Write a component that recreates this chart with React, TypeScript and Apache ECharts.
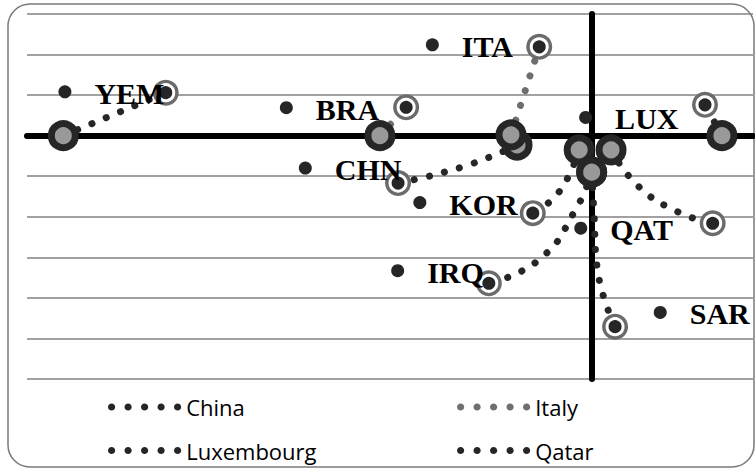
import React, { useEffect, useRef } from 'react';
import * as echarts from 'echarts';

// ---- data ----
const pathNames = ['YEM', 'BRA', 'Italy', 'China', 'KOR', 'IRQ', 'SAR', 'Qatar', 'Luxembourg'];
const pathTone = ['dark', 'grey', 'grey', 'dark', 'dark', 'dark', 'dark', 'dark', 'dark'];
const startX = [-13.1, -5.25, -2.0, -1.85, -0.31, 0.0, 0.0, 0.48, 3.23];
const startY = [0, 0, 0.02, -0.23, -0.35, -0.9, -0.9, -0.35, 0];
const endX = [-10.56, -4.6, -1.3, -4.8, -1.46, -2.55, 0.58, 3.0, 2.81];
const endY = [1.06, 0.7, 2.19, -1.17, -1.91, -3.64, -4.71, -2.16, 0.76];
const viaX: number[][] = [[], [], [], [-3.14], [-0.81], [-0.39, -1.28], [0.06, 0.13], [1.15, 2.14], []];
const viaY: number[][] = [[], [], [], [-0.75], [-1.39], [-1.81, -3.04], [-1.96, -3.21], [-1.24, -1.88], []];
const startDrawOrder = [0, 1, 3, 2, 4, 7, 5, 6, 8];

const labelNames = ['ITA', 'YEM', 'BRA', 'LUX', 'CHN', 'KOR', 'QAT', 'IRQ', 'SAR'];
const labelX = [-3.95, -13.06, -7.57, -0.15, -7.1, -4.26, -0.27, -4.81, 1.7];
const labelY = [2.24, 1.08, 0.69, 0.45, -0.8, -1.65, -2.28, -3.33, -4.36];

const legendLeft = ['China', 'Luxembourg'];
const legendRight = ['Italy', 'Qatar'];

const xMin = -14;
const xMax = 4;
const yMin = -6;
const yMax = 3;

// ---- styles ----
const DARK = '#262626';
const GREY_LINE = '#6e6e6e';
const RING_GREY = '#6b6b6b';
const FILL_GREY = '#999999';

function circlePath(cx: number, cy: number, r: number) {
  const k = 0.5523 * r;
  return (
    `M${cx - r} ${cy}` +
    `C${cx - r} ${cy - k} ${cx - k} ${cy - r} ${cx} ${cy - r}` +
    `C${cx + k} ${cy - r} ${cx + r} ${cy - k} ${cx + r} ${cy}` +
    `C${cx + r} ${cy + k} ${cx + k} ${cy + r} ${cx} ${cy + r}` +
    `C${cx - k} ${cy + r} ${cx - r} ${cy + k} ${cx - r} ${cy}Z`
  );
}
const legendDots = [3.6, 20.1, 36.6, 53.1, 69.6].map((cx) => circlePath(cx, 3.6, 3.6)).join('');

export default function App() {
  const ref = useRef<HTMLDivElement>(null);

  useEffect(() => {
    if (!ref.current) return;
    const chart = echarts.init(ref.current, undefined, { renderer: 'svg' });

    const toneOf = (name: string) => pathTone[pathNames.indexOf(name)];

    const lineSeries = pathNames.map((name, i) => {
      const pts: number[][] = [[startX[i], startY[i]]];
      viaX[i].forEach((vx, k) => pts.push([vx, viaY[i][k]]));
      pts.push([endX[i], endY[i]]);
      const col = pathTone[i] === 'grey' ? GREY_LINE : DARK;
      return {
        type: 'line',
        name,
        data: pts,
        smooth: viaX[i].length ? 0.5 : false,
        symbol: 'none',
        showSymbol: false,
        color: col,
        itemStyle: { color: col },
        lineStyle: { color: col, width: 7, type: [0.1, 15.4], cap: 'round' },
        z: 2,
        silent: true,
      };
    });

    const startData = startDrawOrder.map((i) => [startX[i], startY[i]]);
    const endData = pathNames.map((_, i) => [endX[i], endY[i]]);
    const labelData = labelNames.map((n, i) => ({ name: n, value: [labelX[i], labelY[i]] }));

    const legendItems = (names: string[]) =>
      names.map((n) => ({
        name: n,
        icon: 'path://' + legendDots,
        itemStyle: {
          color: toneOf(n) === 'grey' ? '#6f6f6f' : '#262626',
          borderWidth: 0,
          borderColor: 'transparent',
        },
      }));

    const legendCommon = {
      orient: 'vertical',
      top: 395,
      itemWidth: 73.2,
      itemHeight: 7.2,
      itemGap: 19.5,
      padding: 0,
      icon: 'path://' + legendDots,
      selectedMode: false,
      itemStyle: { borderWidth: 0, borderColor: 'transparent', borderType: 'solid' },
      textStyle: { fontFamily: 'Open Sans', fontSize: 22, color: '#000', lineHeight: 24 },
    };

    chart.setOption({
      animation: false,
      grid: { left: 27, right: 2, top: 14, bottom: 89 },
      xAxis: {
        type: 'value',
        min: xMin,
        max: xMax,
        interval: 1,
        axisLine: { show: true, onZero: true, lineStyle: { color: '#000', width: 6 } },
        axisTick: { show: false },
        axisLabel: { show: false },
        splitLine: { show: false },
      },
      yAxis: {
        type: 'value',
        min: yMin,
        max: yMax,
        interval: 1,
        axisLine: { show: true, onZero: true, lineStyle: { color: '#000', width: 6 } },
        axisTick: { show: false },
        axisLabel: { show: false },
        splitLine: { show: true, lineStyle: { color: '#828282', width: 1.5 } },
      },
      legend: [
        { ...legendCommon, left: 108, data: legendItems(legendLeft) },
        { ...legendCommon, left: 457, data: legendItems(legendRight) },
      ],
      graphic: [
        {
          type: 'rect',
          shape: { x: 8, y: 4, width: 746, height: 463, r: 22 },
          style: { fill: 'none', stroke: '#7a7a7a', lineWidth: 1.5 },
          z: -10,
          silent: true,
        },
      ],
      series: [
        ...lineSeries,
        {
          type: 'scatter',
          name: '_start',
          data: startData,
          symbol: 'circle',
          symbolSize: 24,
          itemStyle: { color: FILL_GREY, borderColor: DARK, borderWidth: 7, opacity: 1 },
          z: 3,
          silent: true,
        },
        {
          type: 'scatter',
          name: '_ring',
          data: endData,
          symbol: 'circle',
          symbolSize: 26,
          itemStyle: { color: RING_GREY, opacity: 1 },
          z: 4,
          silent: true,
        },
        {
          type: 'scatter',
          name: '_ringdot',
          data: endData,
          symbol: 'circle',
          symbolSize: 16,
          itemStyle: { color: DARK, borderColor: '#ffffff', borderWidth: 3, opacity: 1 },
          z: 5,
          silent: true,
        },
        {
          type: 'scatter',
          name: '_labels',
          data: labelData,
          symbol: 'circle',
          symbolSize: 13,
          itemStyle: { color: DARK, opacity: 1 },
          z: 6,
          silent: true,
          label: {
            show: true,
            position: 'right',
            distance: 23,
            offset: [0, 1.5],
            formatter: '{b}',
            fontFamily: 'Liberation Serif',
            fontWeight: 'bold',
            fontSize: 30,
            color: '#000',
          },
        },
      ],
    });

    return () => chart.dispose();
  }, []);

  return (
    <div
      ref={ref}
      style={{ position: 'absolute', left: 0, top: 0, width: '755px', height: '468px' }}
    />
  );
}
